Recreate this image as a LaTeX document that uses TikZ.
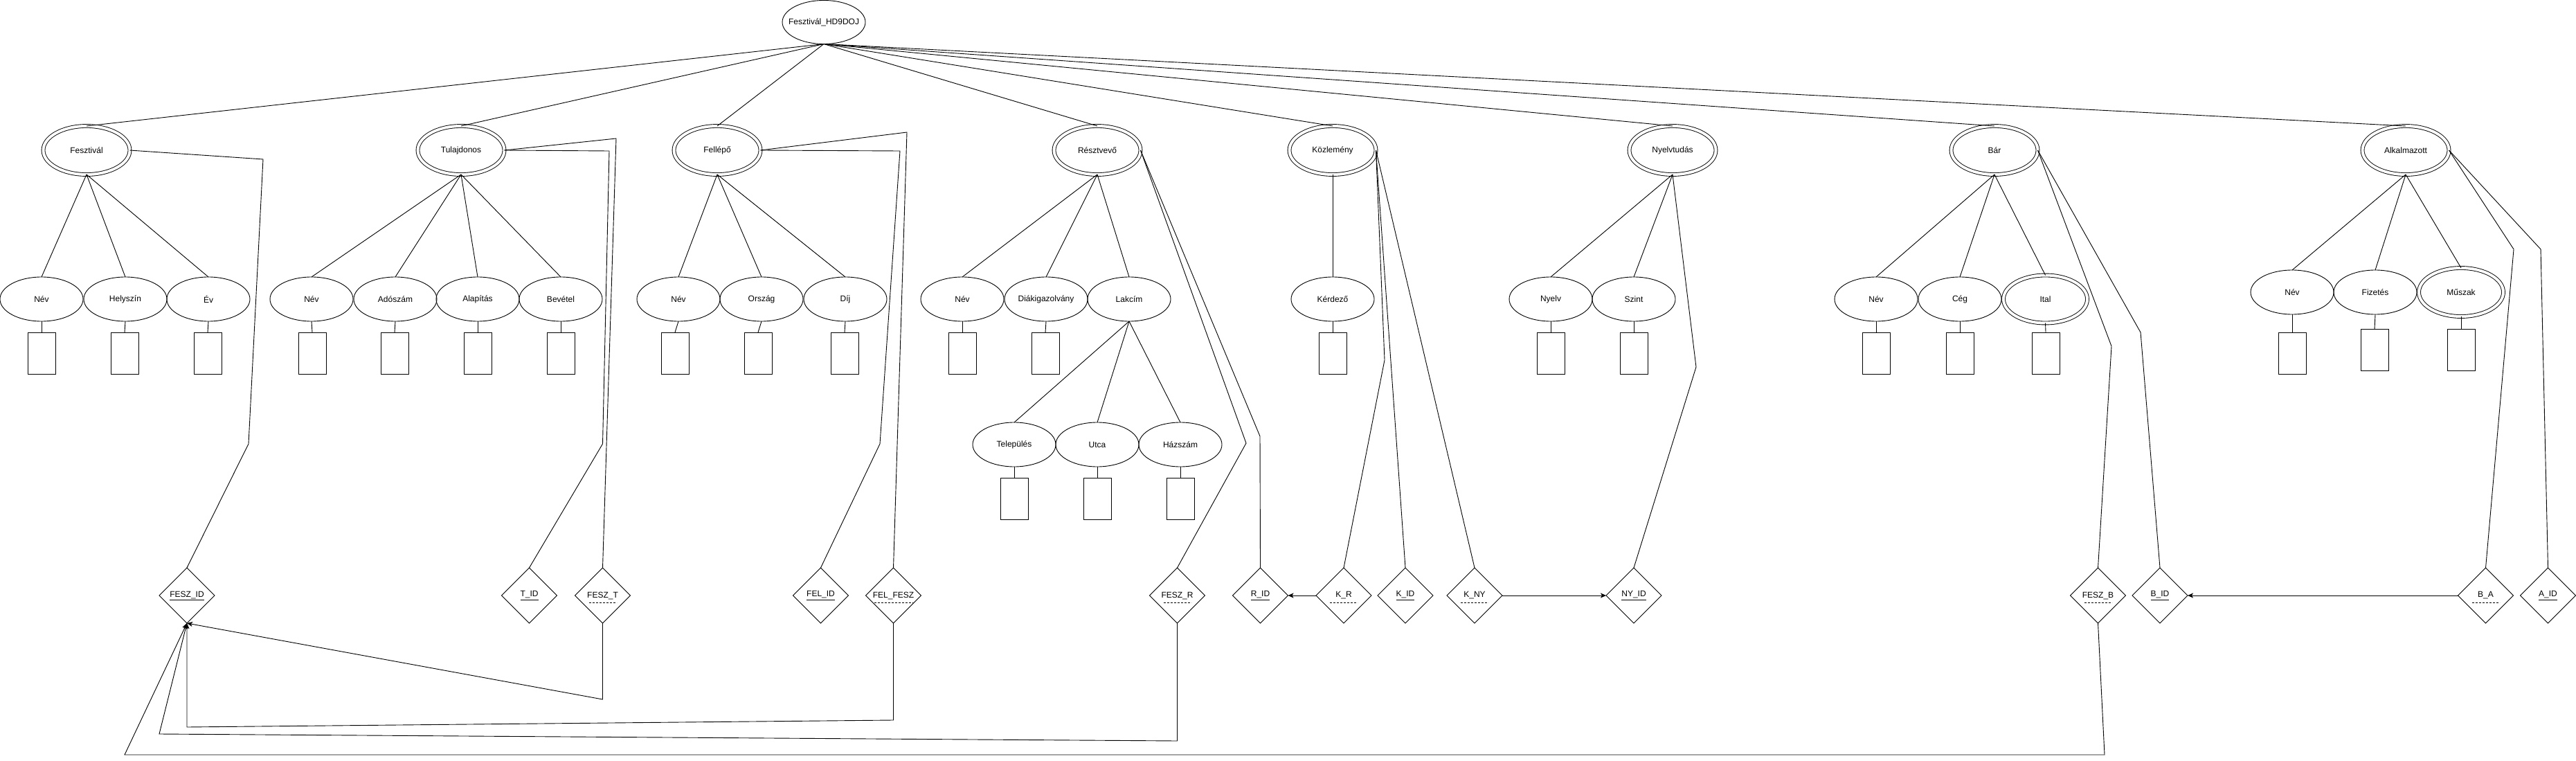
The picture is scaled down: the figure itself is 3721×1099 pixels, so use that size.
\documentclass[tikz,border=0pt]{standalone}
\usepackage{fontspec}
\setmainfont{Liberation Sans}
\usetikzlibrary{shapes.geometric,arrows.meta}
\begin{document}
\begin{tikzpicture}[x=1pt,y=-1pt,
  every node/.append style={font=\fontsize{12}{14}\selectfont, inner sep=0pt, outer sep=0pt},
  line width=0.9pt,
  ent/.style={ellipse, draw, double, double distance=4pt, minimum width=125, minimum height=70},
  attr/.style={ellipse, draw, minimum width=120, minimum height=64},
  mattr/.style={ellipse, draw, double, double distance=4pt, minimum width=121, minimum height=69},
  dom/.style={rectangle, draw, minimum width=40, minimum height=60},
  keyd/.style={diamond, draw, aspect=1, minimum width=80, minimum height=80},
  ref/.style={draw, -{Stealth[length=8pt,width=7pt,inset=2pt]}},
  fkmark/.style={draw, dash pattern=on 3pt off 2pt},
]
\fill[white] (0,0) rectangle (3721,1099);
\useasboundingbox (0,0) rectangle (3721,1099);

% root (shape and its text kept apart so the ellipse keeps its size)
\node[ellipse, draw, minimum width=120, minimum height=63] (top) at (1190,32) {};
\node (toptxt) at (top.center) {Fesztivál\_HD9DOJ};

% entities
\node[ent] (fesz)  at (125,217)  {Fesztivál};
\node[ent] (tul)   at (666,217)  {Tulajdonos};
\node[ent] (fel)   at (1036,217) {Fellépő};
\node[ent] (resz)  at (1585,217) {Résztvevő};
\node[ent] (kozl)  at (1925,217) {Közlemény};
\node[ent] (nyelv) at (2416,217) {Nyelvtudás};
\node[ent] (bar)   at (2881,217) {Bár};
\node[ent] (alk)   at (3475,217) {Alkalmazott};

% attributes
\node[attr] (fNev)  at (60,432)  {Név};
\node[attr] (fHely) at (181,432) {Helyszín};
\node[attr] (fEv)   at (301,432) {Év};
\node[attr] (tNev)  at (450,432) {Név};
\node[attr] (tAdo)  at (571,432) {Adószám};
\node[attr] (tAlap) at (690,432) {Alapítás};
\node[attr] (tBev)  at (810,432) {Bevétel};
\node[attr] (flNev) at (980,432)  {Név};
\node[attr] (flOrs) at (1100,432) {Ország};
\node[attr] (flDij) at (1221,432) {Díj};
\node[attr] (rNev)  at (1390,432) {Név};
\node[attr] (rDiak) at (1511,432) {Diákigazolvány};
\node[attr] (rLak)  at (1631,432) {Lakcím};
\node[attr] (lTel)  at (1465,642) {Település};
\node[attr] (lUtca) at (1585,642) {Utca};
\node[attr] (lHaz)  at (1705,642) {Házszám};
\node[attr] (kKerd) at (1925,432) {Kérdező};
\node[attr] (nyNyelv) at (2240,432) {Nyelv};
\node[attr] (nySzint) at (2360,432) {Szint};
\node[attr] (bNev)  at (2710,432) {Név};
\node[attr] (bCeg)  at (2831,432) {Cég};
\node[mattr] (bItal) at (2954.5,432) {Ital};
\node[attr] (aNev)  at (3311,422) {Név};
\node[attr] (aFiz)  at (3431,422) {Fizetés};
\node[mattr, minimum width=122, minimum height=70] (aMusz) at (3555,422) {Műszak};

% domain boxes
\node[dom] (fNevR)  at (60,510) {};
\node[dom] (fHelyR) at (180,510) {};
\node[dom] (fEvR)   at (300,510) {};
\node[dom] (tNevR)  at (451,510) {};
\node[dom] (tAdoR)  at (570,510) {};
\node[dom] (tAlapR) at (690,510) {};
\node[dom] (tBevR)  at (810,510) {};
\node[dom] (flNevR) at (975,510) {};
\node[dom] (flOrsR) at (1095,510) {};
\node[dom] (flDijR) at (1220,510) {};
\node[dom] (rNevR)  at (1390,510) {};
\node[dom] (rDiakR) at (1510,510) {};
\node[dom] (lTelR)  at (1465,720) {};
\node[dom] (lUtcaR) at (1585,720) {};
\node[dom] (lHazR)  at (1705,720) {};
\node[dom] (kKerdR) at (1925,510) {};
\node[dom] (nyNyelvR) at (2240,510) {};
\node[dom] (nySzintR) at (2360,510) {};
\node[dom] (bNevR)  at (2710,510) {};
\node[dom] (bCegR)  at (2831,510) {};
\node[dom] (bItalR) at (2955,510) {};
\node[dom] (aNevR)  at (3311,510) {};
\node[dom] (aFizR)  at (3430,505) {};
\node[dom] (aMuszR) at (3555,505) {};

% key diamonds
\node[keyd] (FESZID) at (270,860)    {\underline{FESZ\_ID}};
\node[keyd] (TID)    at (764.5,860)  {\underline{T\_ID}};
\node[keyd] (FESZT)  at (870.5,860)  {FESZ\_T};
\node[keyd] (FELID)  at (1185.5,860) {\underline{FEL\_ID}};
\node[keyd] (FELFESZ) at (1290.5,860) {FEL\_FESZ};
\node[keyd] (FESZR)  at (1700.5,860) {FESZ\_R};
\node[keyd] (RID)    at (1820.5,860) {\underline{R\_ID}};
\node[keyd] (KR)     at (1941,860)   {K\_R};
\node[keyd] (KID)    at (2030,860)   {\underline{K\_ID}};
\node[keyd] (KNY)    at (2130,860)   {K\_NY};
\node[keyd] (NYID)   at (2360,860)   {\underline{NY\_ID}};
\node[keyd] (FESZB)  at (3030.5,860) {FESZ\_B};
\node[keyd] (BID)    at (3120,860)   {\underline{B\_ID}};
\node[keyd] (BA)     at (3590.5,860) {B\_A};
\node[keyd] (AID)    at (3680.5,860) {\underline{A\_ID}};

% dashed marks under foreign keys
\draw[fkmark] ([xshift=-20pt,yshift=-10pt]FESZT.center) -- ([xshift=20pt,yshift=-10pt]FESZT.center);
\draw[fkmark] ([xshift=-28pt,yshift=-10pt]FELFESZ.center) -- ([xshift=28pt,yshift=-10pt]FELFESZ.center);
\draw[fkmark] ([xshift=-20pt,yshift=-10pt]FESZR.center) -- ([xshift=20pt,yshift=-10pt]FESZR.center);
\draw[fkmark] ([xshift=-20pt,yshift=-10pt]KR.center) -- ([xshift=20pt,yshift=-10pt]KR.center);
\draw[fkmark] ([xshift=-20pt,yshift=-10pt]KNY.center) -- ([xshift=20pt,yshift=-10pt]KNY.center);
\draw[fkmark] ([xshift=-20pt,yshift=-10pt]FESZB.center) -- ([xshift=20pt,yshift=-10pt]FESZB.center);
\draw[fkmark] ([xshift=-20pt,yshift=-10pt]BA.center) -- ([xshift=20pt,yshift=-10pt]BA.center);

% root to entities
\foreach \e in {fesz,tul,fel,resz,kozl,nyelv,bar,alk}
  \draw (top.south) -- (\e.north);

% entities to attributes
\foreach \a in {fNev,fHely,fEv} \draw (fesz.south) -- (\a.north);
\foreach \a in {tNev,tAdo,tAlap,tBev} \draw (tul.south) -- (\a.north);
\foreach \a in {flNev,flOrs,flDij} \draw (fel.south) -- (\a.north);
\foreach \a in {rNev,rDiak,rLak} \draw (resz.south) -- (\a.north);
\foreach \a in {lTel,lUtca,lHaz} \draw (rLak.south) -- (\a.north);
\draw (kozl.south) -- (kKerd.north);
\foreach \a in {nyNyelv,nySzint} \draw (nyelv.south) -- (\a.north);
\foreach \a in {bNev,bCeg,bItal} \draw (bar.south) -- (\a.north);
\foreach \a in {aNev,aFiz,aMusz} \draw (alk.south) -- (\a.north);

% attributes to domain boxes
\foreach \a in {fNev,fHely,fEv,tNev,tAdo,tAlap,tBev,flNev,flOrs,flDij,rNev,rDiak,lTel,lUtca,lHaz,kKerd,nyNyelv,nySzint,bNev,bCeg,bItal,aNev,aFiz,aMusz}
  \draw (\a.south) -- (\a R.north);

% entities to keys
\draw (fesz.east) -- (380,230) -- (359,641) -- (FESZID.north);
\draw (tul.east) -- (880,218) -- (870.5,641) -- (TID.north);
\draw (tul.east) -- (890,200) -- (FESZT.north);
\draw (fel.east) -- (1300,218) -- (1271,641) -- (FELID.north);
\draw (fel.east) -- (1310,191) -- (FELFESZ.north);
\draw (resz.east) -- (1800,640) -- (FESZR.north);
\draw (resz.east) -- (1820,630) -- (RID.north);
\draw (kozl.east) -- (2000,520) -- (KR.north);
\draw (kozl.east) -- (KID.north);
\draw (kozl.east) -- (KNY.north);
\draw (nyelv.south) -- (2450,530) -- (NYID.north);
\draw (bar.east) -- (3050,500) -- (FESZB.north);
\draw (bar.east) -- (3092,480) -- (BID.north);
\draw (alk.east) -- (3631,360) -- (BA.north);
\draw (alk.east) -- (3670,360) -- (AID.north);

% references
\draw[ref] (FESZT.south) -- (870.5,1010) -- (FESZID.south);
\draw[ref] (FELFESZ.south) -- (1290.5,1040) -- (270,1050) -- (FESZID.south);
\draw[ref] (FESZR.south) -- (1700.5,1070) -- (230,1060) -- (FESZID.south);
\draw[ref] (FESZB.south) -- (3040,1090) -- (180,1090) -- (FESZID.south);
\draw[ref] (KR.west) -- (RID.east);
\draw[ref] (KNY.east) -- (NYID.west);
\draw[ref] (BA.west) -- (BID.east);
\end{tikzpicture}
\end{document}
